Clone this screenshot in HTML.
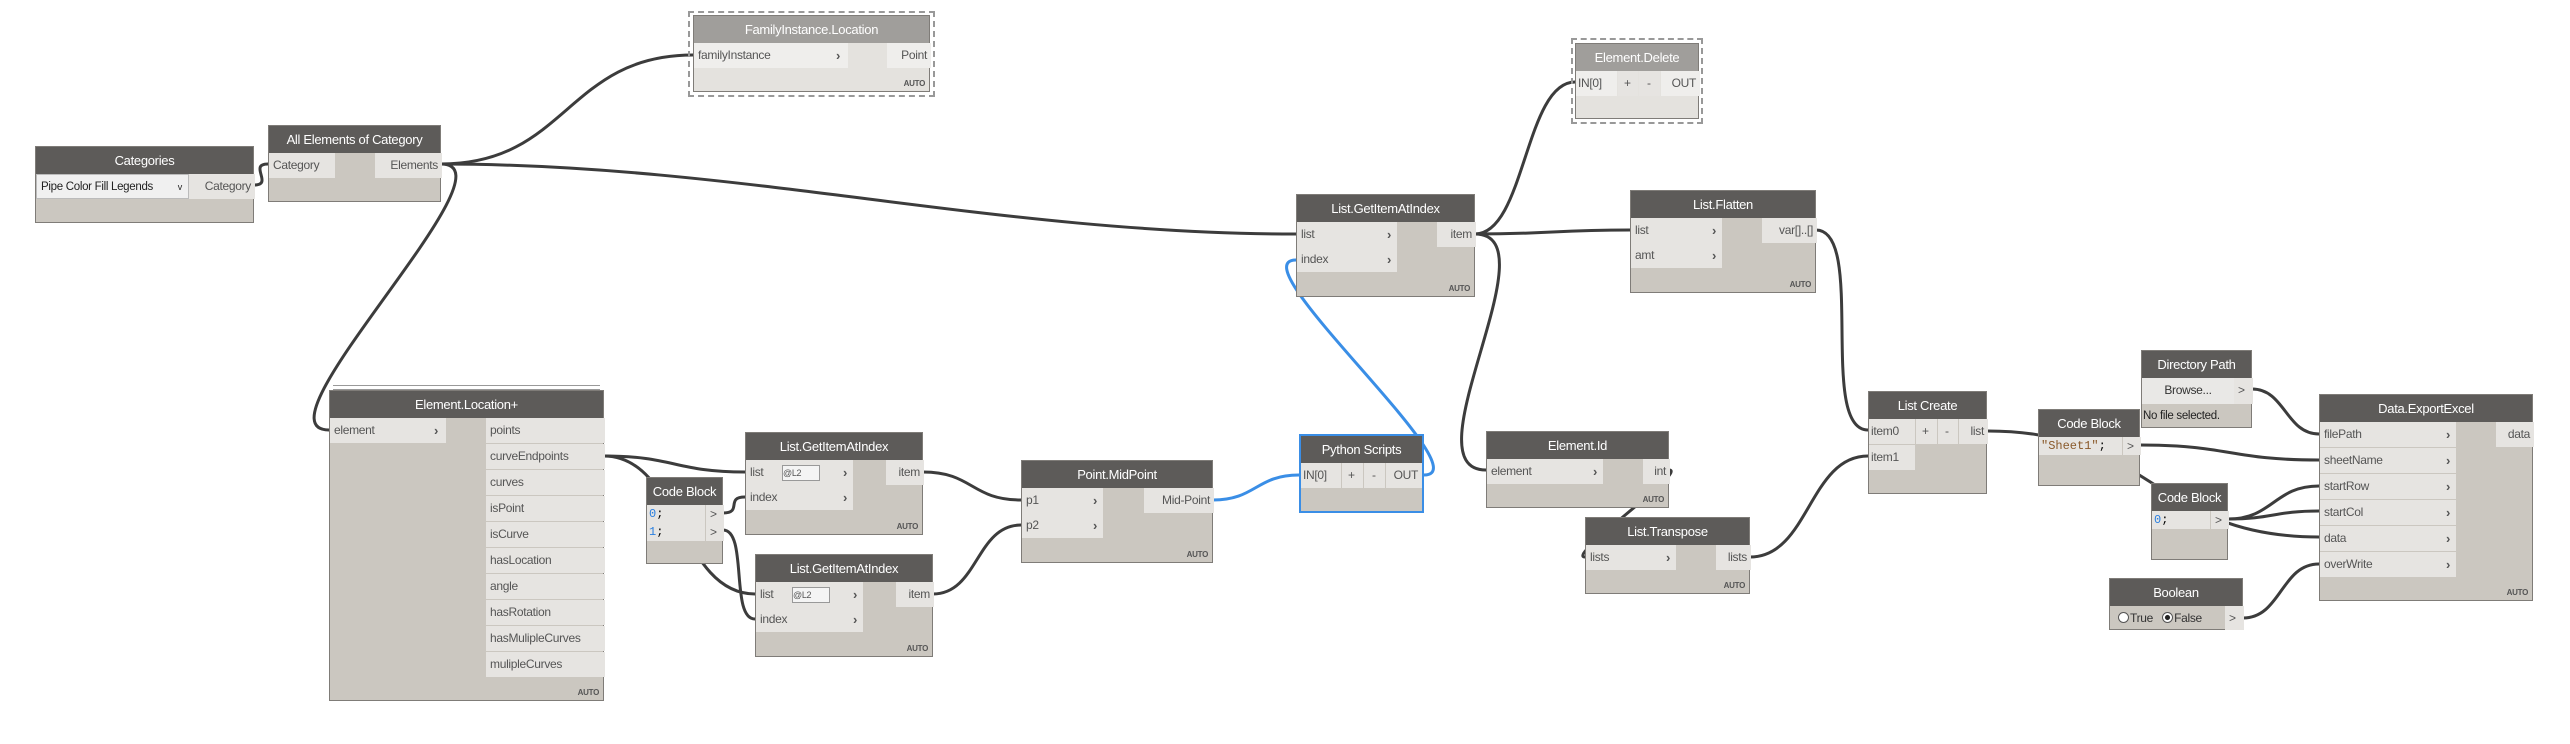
<!DOCTYPE html>
<html><head><meta charset="utf-8"><style>
body{margin:0;width:2570px;height:744px;background:#fff;position:relative;overflow:hidden;font-family:"Liberation Sans Narrow","Liberation Sans",sans-serif;}
.n{position:absolute;background:#cbc7c0;border:1px solid #7f7c78;box-sizing:border-box;}
.h{position:absolute;left:0;top:0;right:0;height:27px;background:#5d5b59;color:#fff;font-size:13px;letter-spacing:-0.3px;line-height:27px;text-align:center;white-space:nowrap;}
.lh .h{background:#a09e9b}
.lh{background:#e4e2de}
.p{position:absolute;background:#e6e4e1;color:#555;font-size:12px;letter-spacing:-0.3px;line-height:25px;height:25px;padding-left:4px;box-sizing:border-box;white-space:nowrap;}
.r{text-align:right;padding-right:4px;padding-left:0}
.ch{position:absolute;color:#555;font-size:13px;font-weight:bold}
.auto{position:absolute;right:4px;bottom:3px;font-size:8px;font-weight:bold;color:#555;letter-spacing:-0.3px}
.dash{position:absolute;border:2px dashed #999;box-sizing:border-box}
.cb{position:absolute;font-family:"Liberation Mono",monospace;font-size:12px;line-height:18px;height:18px;background:#e6e4e1;padding-left:2px;box-sizing:border-box}
svg{position:absolute;left:0;top:0}
</style></head><body>
<svg width="2570" height="744" fill="none" stroke="#3c3c3c" stroke-width="3">
<path d="M254 185 C274 185,248 164,268 164"/>
<path d="M441 164 C567 164,567 55,693 55"/>
<path d="M441 164 C741 164,996 234,1296 234"/>
<path d="M441 164 C521 164,249 430,329 430"/>
<path d="M604 456 C674 456,675 472,745 472"/>
<path d="M604 456 C679 456,680 594,755 594"/>
<path d="M723 513 C743 513,725 497,745 497"/>
<path d="M723 530 C748 530,730 619,755 619"/>
<path d="M923 472 C973 472,971 500,1021 500"/>
<path d="M933 594 C978 594,976 525,1021 525"/>
<path d="M1475 234 C1525 234,1525 82,1575 82"/>
<path d="M1475 234 C1552 234,1553 230,1630 230"/>
<path d="M1475 234 C1555 234,1406 470,1486 470"/>
<path d="M1669 470 C1689 470,1565 557,1585 557"/>
<path d="M1816 230 C1866 230,1818 430,1868 430"/>
<path d="M1750 557 C1809 557,1809 456,1868 456"/>
<path d="M1988 431 C2153 431,2154 537,2319 537"/>
<path d="M2140 445 C2230 445,2229 460,2319 460"/>
<path d="M2252 389 C2285 389,2286 434,2319 434"/>
<path d="M2228 519 C2273 519,2274 486,2319 486"/>
<path d="M2228 519 C2273 519,2274 511,2319 511"/>
<path d="M2243 618 C2281 618,2281 564,2319 564"/>
<g stroke="#3a8ee6">
<path d="M1213 500 C1256 500,1256 475,1299 475"/>
<path d="M1424 475 C1484 475,1236 260,1296 260"/>
</g>
</svg>

<div class="n" style="left:35px;top:146px;width:219px;height:77px"><div class="h">Categories</div>
<div class="p" style="left:0;top:27px;width:153px;background:#f0f0f0;border:1px solid #bbb;color:#222;font-size:11.5px">Pipe Color Fill Legends<span style="position:absolute;right:6px;font-size:9px">v</span></div>
<div class="p r" style="left:153px;top:27px;width:66px">Category</div></div>

<div class="n" style="left:268px;top:125px;width:173px;height:77px"><div class="h">All Elements of Category</div>
<div class="p" style="left:0;top:27px;width:66px">Category</div>
<div class="p r" style="left:106px;top:27px;width:67px">Elements</div></div>

<div class="dash" style="left:688px;top:11px;width:247px;height:86px"></div>
<div class="n lh" style="left:693px;top:15px;width:237px;height:77px"><div class="h">FamilyInstance.Location</div>
<div class="p" style="left:0;top:27px;width:154px;background:#efeeec">familyInstance<span class="ch" style="right:8px">›</span></div>
<div class="p r" style="left:193px;top:27px;width:44px;background:#efeeec">Point</div><div class="auto">AUTO</div></div>

<div style="position:absolute;left:333px;top:385px;width:267px;height:3px;border-top:1px solid #999;border-bottom:1px solid #999"></div>
<div class="n" style="left:329px;top:390px;width:275px;height:311px"><div class="h">Element.Location+</div>
<div class="p" style="left:0;top:27px;width:116px">element<span class="ch" style="right:8px">›</span></div>
<div class="p" style="left:156px;top:27px;width:119px">points</div>
<div class="p" style="left:156px;top:53px;width:119px">curveEndpoints</div>
<div class="p" style="left:156px;top:79px;width:119px">curves</div>
<div class="p" style="left:156px;top:105px;width:119px">isPoint</div>
<div class="p" style="left:156px;top:131px;width:119px">isCurve</div>
<div class="p" style="left:156px;top:157px;width:119px">hasLocation</div>
<div class="p" style="left:156px;top:183px;width:119px">angle</div>
<div class="p" style="left:156px;top:209px;width:119px">hasRotation</div>
<div class="p" style="left:156px;top:235px;width:119px">hasMulipleCurves</div>
<div class="p" style="left:156px;top:261px;width:119px">mulipleCurves</div>
<div class="auto">AUTO</div></div>

<div class="n" style="left:646px;top:477px;width:77px;height:87px"><div class="h">Code Block</div>
<div class="cb" style="left:0;top:27px;width:58px"><span style="color:#2a7fe0">0</span>;</div>
<div class="cb" style="left:0;top:45px;width:58px"><span style="color:#2a7fe0">1</span>;</div>
<div class="p" style="left:59px;top:27px;width:18px;height:18px;line-height:18px;padding-left:4px">&gt;</div>
<div class="p" style="left:59px;top:45px;width:18px;height:18px;line-height:18px;padding-left:4px">&gt;</div></div>

<div class="n" style="left:745px;top:432px;width:178px;height:103px"><div class="h">List.GetItemAtIndex</div>
<div class="p" style="left:0;top:27px;width:107px">list<span style="position:absolute;left:36px;top:5px;width:36px;height:14px;border:1px solid #999;background:#f4f4f4;font-size:9px;line-height:14px">@L2</span><span class="ch" style="right:6px">›</span></div>
<div class="p" style="left:0;top:52px;width:107px">index<span class="ch" style="right:6px">›</span></div>
<div class="p r" style="left:140px;top:27px;width:38px">item</div><div class="auto">AUTO</div></div>

<div class="n" style="left:755px;top:554px;width:178px;height:103px"><div class="h">List.GetItemAtIndex</div>
<div class="p" style="left:0;top:27px;width:107px">list<span style="position:absolute;left:36px;top:5px;width:36px;height:14px;border:1px solid #999;background:#f4f4f4;font-size:9px;line-height:14px">@L2</span><span class="ch" style="right:6px">›</span></div>
<div class="p" style="left:0;top:52px;width:107px">index<span class="ch" style="right:6px">›</span></div>
<div class="p r" style="left:140px;top:27px;width:38px">item</div><div class="auto">AUTO</div></div>

<div class="n" style="left:1021px;top:460px;width:192px;height:103px"><div class="h">Point.MidPoint</div>
<div class="p" style="left:0;top:27px;width:81px">p1<span class="ch" style="right:6px">›</span></div>
<div class="p" style="left:0;top:52px;width:81px">p2<span class="ch" style="right:6px">›</span></div>
<div class="p r" style="left:122px;top:27px;width:70px">Mid-Point</div><div class="auto">AUTO</div></div>

<div class="n" style="left:1299px;top:434px;width:125px;height:79px;border:2px solid #3a8ee6"><div class="h">Python Scripts</div>
<div class="p" style="left:0;top:27px;width:40px;padding-left:2px">IN[0]</div>
<div class="p" style="left:41px;top:27px;width:21px;padding-left:6px">+</div>
<div class="p" style="left:63px;top:27px;width:21px;padding-left:8px">-</div>
<div class="p r" style="left:85px;top:27px;width:36px">OUT</div></div>

<div class="n" style="left:1296px;top:194px;width:179px;height:103px"><div class="h">List.GetItemAtIndex</div>
<div class="p" style="left:0;top:27px;width:100px">list<span class="ch" style="right:6px">›</span></div>
<div class="p" style="left:0;top:52px;width:100px">index<span class="ch" style="right:6px">›</span></div>
<div class="p r" style="left:140px;top:27px;width:39px">item</div><div class="auto">AUTO</div></div>

<div class="dash" style="left:1571px;top:38px;width:132px;height:86px"></div>
<div class="n lh" style="left:1575px;top:43px;width:124px;height:76px"><div class="h">Element.Delete</div>
<div class="p" style="left:0;top:27px;width:41px;padding-left:2px;background:#efeeec">IN[0]</div>
<div class="p" style="left:42px;top:27px;width:20px;padding-left:6px">+</div>
<div class="p" style="left:63px;top:27px;width:21px;padding-left:8px">-</div>
<div class="p r" style="left:85px;top:27px;width:39px;background:#efeeec">OUT</div></div>

<div class="n" style="left:1630px;top:190px;width:186px;height:103px"><div class="h">List.Flatten</div>
<div class="p" style="left:0;top:27px;width:91px">list<span class="ch" style="right:6px">›</span></div>
<div class="p" style="left:0;top:52px;width:91px">amt<span class="ch" style="right:6px">›</span></div>
<div class="p r" style="left:131px;top:27px;width:55px">var[]..[]</div><div class="auto">AUTO</div></div>

<div class="n" style="left:1486px;top:431px;width:183px;height:77px"><div class="h">Element.Id</div>
<div class="p" style="left:0;top:27px;width:116px">element<span class="ch" style="right:6px">›</span></div>
<div class="p r" style="left:156px;top:27px;width:27px">int</div><div class="auto">AUTO</div></div>

<div class="n" style="left:1585px;top:517px;width:165px;height:77px"><div class="h">List.Transpose</div>
<div class="p" style="left:0;top:27px;width:90px">lists<span class="ch" style="right:6px">›</span></div>
<div class="p r" style="left:130px;top:27px;width:35px">lists</div><div class="auto">AUTO</div></div>

<div class="n" style="left:1868px;top:391px;width:119px;height:103px"><div class="h">List Create</div>
<div class="p" style="left:0;top:27px;width:46px;padding-left:2px">item0</div>
<div class="p" style="left:47px;top:27px;width:21px;padding-left:6px">+</div>
<div class="p" style="left:69px;top:27px;width:20px;padding-left:7px">-</div>
<div class="p r" style="left:90px;top:27px;width:29px">list</div>
<div class="p" style="left:0;top:53px;width:46px;padding-left:2px">item1</div></div>

<div class="n" style="left:2038px;top:409px;width:102px;height:77px"><div class="h">Code Block</div>
<div class="cb" style="left:0;top:27px;width:83px"><span style="color:#8a5a2b">"Sheet1"</span>;</div>
<div class="p" style="left:84px;top:27px;width:18px;height:18px;line-height:18px;padding-left:4px">&gt;</div></div>

<div class="n" style="left:2141px;top:350px;width:111px;height:78px"><div class="h">Directory Path</div>
<div class="p" style="left:0;top:27px;width:92px;height:26px;text-align:center;padding:0;background:#e9e8e6;color:#333">Browse...</div>
<div class="p" style="left:92px;top:27px;width:19px;height:26px">&gt;</div>
<div style="position:absolute;left:1px;top:53px;font-size:11.5px;letter-spacing:-0.3px;line-height:24px;color:#222">No file selected.</div></div>

<div class="n" style="left:2151px;top:483px;width:77px;height:77px"><div class="h">Code Block</div>
<div class="cb" style="left:0;top:27px;width:58px"><span style="color:#2a7fe0">0</span>;</div>
<div class="p" style="left:59px;top:27px;width:18px;height:18px;line-height:18px;padding-left:4px">&gt;</div></div>

<div class="n" style="left:2109px;top:578px;width:134px;height:52px"><div class="h">Boolean</div>
<div style="position:absolute;left:0;top:27px;width:115px;height:24px;font-size:12px;letter-spacing:-0.3px;line-height:24px;color:#333">
<span style="display:inline-block;width:9px;height:9px;border:1px solid #555;border-radius:50%;background:#fff;margin:0 1px 0 8px;vertical-align:-1px"></span>True
<span style="display:inline-block;width:9px;height:9px;border:1px solid #555;border-radius:50%;background:radial-gradient(#222 35%,#fff 45%);margin:0 1px 0 6px;vertical-align:-1px"></span>False</div>
<div class="p" style="left:115px;top:27px;width:19px;height:24px">&gt;</div></div>

<div class="n" style="left:2319px;top:394px;width:214px;height:207px"><div class="h">Data.ExportExcel</div>
<div class="p" style="left:0;top:27px;width:136px">filePath<span class="ch" style="right:6px">›</span></div>
<div class="p" style="left:0;top:53px;width:136px">sheetName<span class="ch" style="right:6px">›</span></div>
<div class="p" style="left:0;top:79px;width:136px">startRow<span class="ch" style="right:6px">›</span></div>
<div class="p" style="left:0;top:105px;width:136px">startCol<span class="ch" style="right:6px">›</span></div>
<div class="p" style="left:0;top:131px;width:136px">data<span class="ch" style="right:6px">›</span></div>
<div class="p" style="left:0;top:157px;width:136px">overWrite<span class="ch" style="right:6px">›</span></div>
<div class="p r" style="left:176px;top:27px;width:38px">data</div><div class="auto">AUTO</div></div>
</body></html>
